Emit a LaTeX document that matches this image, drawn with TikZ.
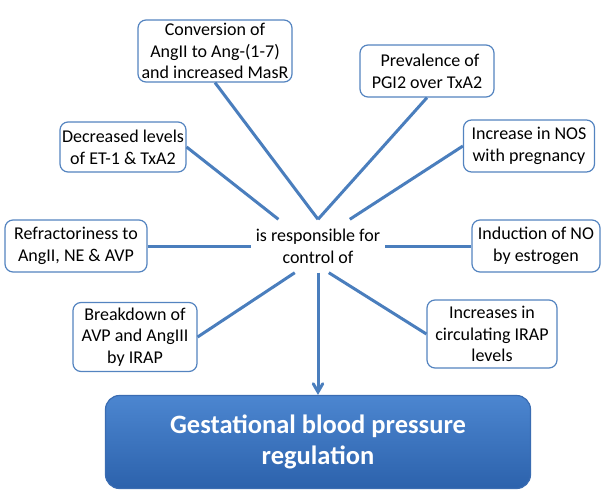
\documentclass[tikz,border=0pt]{standalone}
\usepackage{fontspec}
\setmainfont{Carlito}
\usetikzlibrary{shapes,arrows}
\definecolor{lineblue}{RGB}{74,126,189}
\definecolor{boxline}{RGB}{84,132,192}
\definecolor{goaltop}{RGB}{76,134,208}
\definecolor{goalbot}{RGB}{44,98,172}
\definecolor{goalline}{RGB}{58,108,178}

\begin{document}
\begin{tikzpicture} [
					x=1pt,y=-1pt,
					box/.style={draw=boxline,line width=1.2pt,rounded corners=8pt,fill=white,
						align=center,inner sep=2pt,font=\fontsize{18}{21.7}\selectfont},
					hub/.style={align=center,inner sep=0,minimum width=134pt,minimum height=53pt,
						font=\fontsize{18}{21.7}\selectfont},
					goal/.style={draw=goalline,line width=1.2pt,rounded corners=14pt,
						top color=goaltop,bottom color=goalbot,text=white,align=center,
						font=\fontsize{26.5}{31}\selectfont\bfseries},
					link/.style={draw=lineblue,line width=3pt},
					>=angle 60,
				]
				\useasboundingbox (0,0) rectangle (606,498);
				
				\node[hub] (ctr) at (318,246) {is responsible for\\control of};
				
				\node[box,minimum width=154pt,minimum height=62pt] (conv) at (215,51) {Conversion of\\AngII to Ang-(1-7)\\and increased MasR};
				\node[box,minimum width=134pt,minimum height=52pt] (prev) at (427,71) {\hspace*{6pt}Prevalence of\\PGI2 over TxA2};
				\node[box,minimum width=126pt,minimum height=50pt] (dec) at (123,147) {Decreased levels\\of ET-1 \& TxA2};
				\node[box,minimum width=131pt,minimum height=52pt] (nos) at (529,146) {Increase in NOS\\with pregnancy};
				\node[box,minimum width=142pt,minimum height=52pt] (refr) at (76,246) {Refractoriness to\\AngII, NE \& AVP};
				\node[box,minimum width=128pt,minimum height=52pt] (ind) at (536,246) {Induction of NO\\by estrogen};
				\node[box,minimum width=124pt,minimum height=69pt] (brk) at (135,337) {Breakdown of\\AVP and AngIII\\by IRAP};
				\node[box,minimum width=130pt,minimum height=68pt] (incr) at (492,334) {Increases in\\circulating IRAP\\levels};
				
				\node[goal,minimum width=425pt,minimum height=93pt] (gbp) at (318,442) {Gestational blood pressure\\regulation};
				
				\draw[link] (conv.south) -- (ctr.north);
				\draw[link] (prev.south) -- (ctr.north);
				\draw[link] (dec.east) -- (ctr.146);
				\draw[link] (nos.west) -- (ctr.40);
				\draw[link] (refr.east) -- (ctr.west);
				\draw[link] (ctr.east) -- (ind.west);
				\draw[link] (brk.east) -- (ctr.229);
				\draw[link] (incr.west) -- (ctr.292);
				\draw[link,->] (ctr.south) -- (gbp.north);
				
			\end{tikzpicture}
\end{document}
